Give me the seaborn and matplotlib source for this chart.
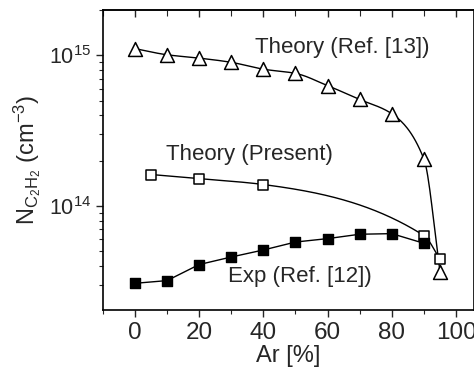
import numpy as np
import pandas as pd
import matplotlib
matplotlib.use("Agg")
import matplotlib.pyplot as plt
import seaborn as sns
from matplotlib.ticker import LogLocator, MultipleLocator, NullFormatter

# Data
ar_ref13 = [0, 10, 20, 30, 40, 50, 60, 70, 80, 90, 95]
n_ref13 = [1.11e15, 1.01e15, 0.96e15, 0.90e15, 0.81e15, 0.76e15, 0.63e15,
           0.51e15, 0.41e15, 2.05e14, 3.66e13]
ar_present = [5, 20, 40, 90, 95]
n_present = [1.62e14, 1.52e14, 1.39e14, 6.37e13, 4.45e13]
ar_exp = [0, 10, 20, 30, 40, 50, 60, 70, 80, 90]
n_exp = [3.07e13, 3.2e13, 4.09e13, 4.59e13, 5.11e13, 5.77e13, 6.08e13,
         6.5e13, 6.56e13, 5.66e13]

labels = ["Theory (Ref. [13])", "Theory (Present)", "Exp (Ref. [12])"]


def pchip(x, y, xs):
    x = np.asarray(x, float)
    y = np.asarray(y, float)
    h = np.diff(x)
    d = np.diff(y) / h
    n = len(x)
    m = np.zeros(n)
    for k in range(1, n - 1):
        if d[k - 1] * d[k] > 0:
            w1 = 2 * h[k] + h[k - 1]
            w2 = h[k] + 2 * h[k - 1]
            m[k] = (w1 + w2) / (w1 / d[k - 1] + w2 / d[k])
    m[0] = d[0]
    m[-1] = d[-1]
    out = np.empty_like(xs)
    for i, xv in enumerate(xs):
        k = min(max(np.searchsorted(x, xv) - 1, 0), n - 2)
        t = (xv - x[k]) / h[k]
        h00 = 2 * t**3 - 3 * t**2 + 1
        h10 = t**3 - 2 * t**2 + t
        h01 = -2 * t**3 + 3 * t**2
        h11 = t**3 - t**2
        out[i] = h00 * y[k] + h10 * h[k] * m[k] + h01 * y[k + 1] + h11 * h[k] * m[k + 1]
    return out


sns.set_theme(style="ticks")
plt.rcParams["font.family"] = ["Liberation Sans", "DejaVu Sans"]
plt.rcParams["mathtext.fontset"] = "custom"
plt.rcParams["mathtext.rm"] = "Liberation Sans"
plt.rcParams["mathtext.it"] = "Liberation Sans"
plt.rcParams["mathtext.bf"] = "Liberation Sans"

fig = plt.figure(figsize=(4.74, 3.74), dpi=100)
ax = fig.add_axes([0.217, 0.171, 0.783, 0.802])

# smooth curves
for xs_, ys_ in [(ar_ref13, n_ref13), (ar_present, n_present)]:
    xx = np.linspace(xs_[0], xs_[-1], 300)
    yy = 10 ** pchip(xs_, np.log10(ys_), xx)
    sns.lineplot(x=xx, y=yy, ax=ax, color="black", lw=1.0, sort=False)

# experiment line
sns.lineplot(x=ar_exp, y=n_exp, ax=ax, color="black", lw=1.0, sort=False)

sns.scatterplot(x=ar_ref13, y=n_ref13, ax=ax, marker="^", s=100,
                facecolor="white", edgecolor="black", linewidth=1.1, zorder=5)
sns.scatterplot(x=ar_present, y=n_present, ax=ax, marker="s", s=60,
                facecolor="white", edgecolor="black", linewidth=1.1, zorder=5)
sns.scatterplot(x=ar_exp, y=n_exp, ax=ax, marker="s", s=60,
                facecolor="black", edgecolor="black", linewidth=1.0, zorder=6)

ax.set_yscale("log")
ax.set_xlim(-10, 105.6)
ax.set_ylim(2.04e13, 2.0e15)

ax.text(37.4, 1.13e15, labels[0], fontsize=16, ha="left", va="center")
ax.text(9.7, 2.2e14, labels[1], fontsize=16, ha="left", va="center")
ax.text(29, 3.41e13, labels[2], fontsize=16, ha="left", va="center")

ax.xaxis.set_major_locator(MultipleLocator(20))
ax.xaxis.set_minor_locator(MultipleLocator(10))
ax.yaxis.set_major_locator(LogLocator(base=10))
ax.yaxis.set_minor_locator(LogLocator(base=10, subs=np.arange(2, 10)))
ax.yaxis.set_minor_formatter(NullFormatter())

ax.tick_params(axis="both", which="major", direction="out",
               length=5, width=1.0, top=False, right=False)
ax.tick_params(axis="x", which="major", labelsize=17.5)
ax.tick_params(axis="y", which="major", labelsize=15.5)
ax.tick_params(axis="both", which="minor", direction="out", length=3, width=0.8,
               top=False, right=False)

# top axis with inward ticks, no labels
top = ax.secondary_xaxis("top")
top.xaxis.set_major_locator(MultipleLocator(20))
top.xaxis.set_minor_locator(MultipleLocator(10))
top.tick_params(which="major", direction="in", length=5, width=1.0, labeltop=False)
top.tick_params(which="minor", direction="in", length=4, width=0.8)
top.spines["top"].set_linewidth(1.2)

for sp in ax.spines.values():
    sp.set_linewidth(1.2)
    sp.set_color("black")

ax.set_xlabel("Ar [%]", fontsize=17, labelpad=1)
ax.set_ylabel(r"N$_{\mathregular{C_2H_2}}$ (cm$^{-3}$)", fontsize=17, labelpad=4)

fig.savefig("out.png", dpi=100)
